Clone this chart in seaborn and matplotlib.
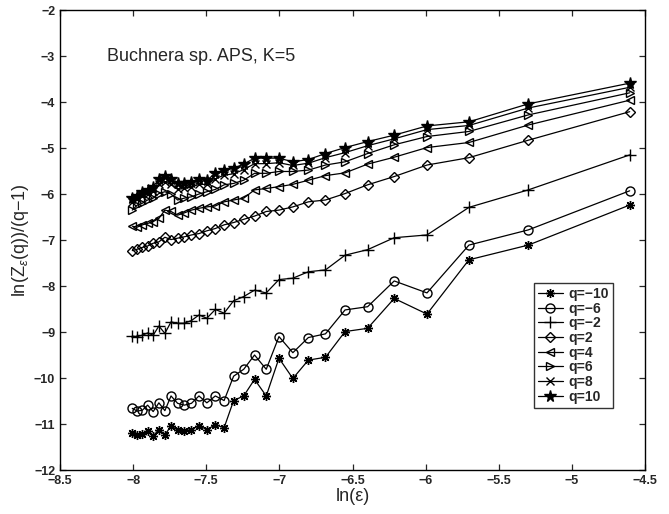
import matplotlib
matplotlib.use('Agg')
import numpy as np
import pandas as pd
import seaborn as sns
import matplotlib.pyplot as plt

# ln(eps) positions (eps = 1/L, L = 3000 ... 100)
ln_eps = [-8.006, -7.972, -7.937, -7.901, -7.863, -7.824, -7.783, -7.741, -7.696, -7.650,
          -7.601, -7.550, -7.496, -7.438, -7.378, -7.313, -7.244, -7.170, -7.090, -7.003,
          -6.908, -6.802, -6.685, -6.551, -6.397, -6.215, -5.991, -5.704, -5.298, -4.605]

q_m10 = [-11.19, -11.24, -11.22, -11.15, -11.26, -11.12, -11.24, -11.04, -11.13, -11.15,
         -11.12, -11.04, -11.12, -11.02, -11.08, -10.49, -10.39, -10.03, -10.39, -9.57,
         -10.01, -9.61, -9.55, -8.99, -8.92, -8.27, -8.61, -7.43, -7.11, -6.24]
q_m6 = [-10.66, -10.72, -10.70, -10.59, -10.73, -10.54, -10.71, -10.39, -10.55, -10.59,
        -10.55, -10.39, -10.54, -10.39, -10.49, -9.96, -9.81, -9.50, -9.81, -9.10,
        -9.45, -9.12, -9.04, -8.52, -8.45, -7.89, -8.15, -7.11, -6.78, -5.93]
q_m2 = [-9.09, -9.10, -9.07, -9.02, -9.07, -8.87, -9.03, -8.78, -8.81, -8.81,
        -8.75, -8.63, -8.70, -8.51, -8.59, -8.32, -8.23, -8.09, -8.15, -7.86,
        -7.83, -7.69, -7.65, -7.33, -7.21, -6.95, -6.89, -6.29, -5.91, -5.15]
q_2 = [-7.23, -7.20, -7.16, -7.13, -7.07, -7.04, -6.94, -6.99, -6.96, -6.93,
       -6.89, -6.86, -6.80, -6.75, -6.67, -6.62, -6.55, -6.48, -6.38, -6.35,
       -6.28, -6.17, -6.13, -5.99, -5.80, -5.62, -5.37, -5.21, -4.83, -4.21]
q_4 = [-6.70, -6.72, -6.67, -6.64, -6.60, -6.53, -6.35, -6.38, -6.46, -6.41,
       -6.35, -6.31, -6.28, -6.26, -6.17, -6.13, -6.09, -5.91, -5.88, -5.84,
       -5.79, -5.70, -5.60, -5.54, -5.35, -5.20, -4.99, -4.88, -4.50, -3.96]
q_6 = [-6.35, -6.24, -6.20, -6.13, -6.09, -5.99, -5.95, -6.00, -6.13, -6.09,
       -6.06, -6.00, -5.95, -5.90, -5.80, -5.77, -5.70, -5.55, -5.55, -5.51,
       -5.51, -5.48, -5.37, -5.30, -5.12, -4.93, -4.75, -4.64, -4.28, -3.80]
q_8 = [-6.18, -6.11, -6.04, -5.99, -5.93, -5.79, -5.73, -5.79, -5.90, -5.88,
       -5.85, -5.79, -5.79, -5.67, -5.59, -5.56, -5.47, -5.34, -5.34, -5.32,
       -5.38, -5.33, -5.21, -5.10, -4.95, -4.80, -4.60, -4.51, -4.13, -3.68]
q_10 = [-6.09, -6.04, -5.95, -5.91, -5.84, -5.68, -5.61, -5.68, -5.77, -5.77,
        -5.73, -5.68, -5.70, -5.55, -5.48, -5.44, -5.35, -5.22, -5.22, -5.22,
        -5.30, -5.25, -5.12, -4.99, -4.86, -4.72, -4.52, -4.43, -4.04, -3.59]

labels = ['q=\u221210', 'q=\u22126', 'q=\u22122', 'q=2', 'q=4', 'q=6', 'q=8', 'q=10']
series = [q_m10, q_m6, q_m2, q_2, q_4, q_6, q_8, q_10]

# marker, size, filled
styles = [((8, 2, 0), 6.5, True), ('o', 6.5, False), ('+', 8, True), ('D', 4.8, False),
          ('<', 6, False), ('>', 6, False), ('x', 5.5, True), ('*', 8.5, True)]

sns.set_style('ticks')
plt.rcParams['font.family'] = ['Liberation Sans', 'DejaVu Sans']
plt.rcParams['mathtext.fontset'] = 'custom'
plt.rcParams['mathtext.rm'] = 'Liberation Sans'
plt.rcParams['mathtext.it'] = 'Liberation Sans:italic'

fig = plt.figure(figsize=(6.69, 5.14), dpi=100)
ax = fig.add_axes([0.0897, 0.0856, 0.8745, 0.8949])

for vals, lab, (mk, ms, filled) in zip(series, labels, styles):
    df = pd.DataFrame({'x': ln_eps, 'y': vals})
    sns.lineplot(data=df, x='x', y='y', ax=ax, color='k', linewidth=0.9,
                 marker=mk, markersize=ms, markeredgecolor='k', markeredgewidth=1.0,
                 markerfacecolor='k' if filled else 'none', label=lab,
                 sort=False, estimator=None)

ax.set_xlim(-8.5, -4.5)
ax.set_ylim(-12, -2)
ax.set_xticks(np.arange(-8.5, -4.49, 0.5))
ax.set_yticks(np.arange(-12, -1.99, 1))
ax.set_xticklabels(['\u22128.5', '\u22128', '\u22127.5', '\u22127', '\u22126.5',
                    '\u22126', '\u22125.5', '\u22125', '\u22124.5'])
ax.set_yticklabels(['\u2212%d' % v for v in range(12, 1, -1)])
ax.tick_params(direction='in', top=True, right=True, labelsize=9, length=4, width=0.9)
for lbl in ax.get_xticklabels() + ax.get_yticklabels():
    lbl.set_fontweight('bold')
for sp in ax.spines.values():
    sp.set_linewidth(1.0)
    sp.set_color('k')

ax.set_xlabel('ln(\u03b5)', fontsize=13, labelpad=1)
ax.set_ylabel('ln(Z$_{\u03b5}$(q))/(q\u22121)', fontsize=13, labelpad=2)
ax.text(-8.18, -3.0, 'Buchnera sp. APS, K=5', fontsize=13, va='center', ha='left')

leg = ax.legend(loc='lower right', bbox_to_anchor=(0.957, 0.12),
                prop={'size': 10, 'weight': 'bold'},
                frameon=True, fancybox=False, edgecolor='k', borderpad=0.3,
                labelspacing=0.05, handlelength=1.8, handletextpad=0.4)
leg.get_frame().set_linewidth(1.0)

fig.savefig('out.png', dpi=100)
